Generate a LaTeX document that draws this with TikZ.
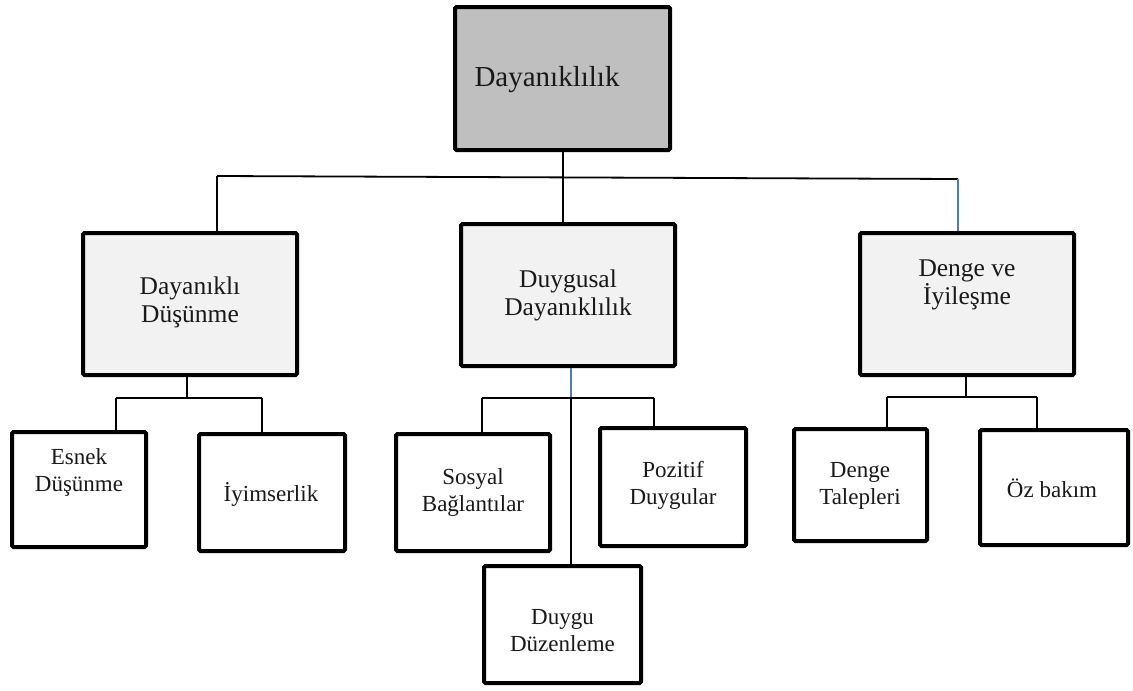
\documentclass[tikz,border=0pt]{standalone}
\usepackage{fontspec}
\setmainfont{Liberation Serif}
\usetikzlibrary{calc}
\definecolor{rootgray}{HTML}{BFBFBF}
\definecolor{midgray}{HTML}{F2F2F2}
\definecolor{linkblue}{HTML}{4A7EBB}
\begin{document}
\begin{tikzpicture}[x=1pt,y=-1pt,
  box/.style={draw=black, line width=4pt, rounded corners=1.5pt, inner sep=0pt},
  rootbox/.style={box, fill=rootgray, minimum width=215pt, minimum height=143pt},
  midbox/.style={box, fill=midgray, minimum width=214pt, minimum height=142pt},
  leafbox/.style={box, fill=white},
  roottext/.style={font=\fontsize{29}{34}\selectfont, text=black!90},
  midtext/.style={font=\fontsize{25.5}{28}\selectfont, align=center, text=black!90},
  leaftext/.style={font=\fontsize{23}{27}\selectfont, align=center, text=black!90},
  link/.style={draw=black, line width=1.8pt},
  bluelink/.style={draw=linkblue, line width=1.8pt}]
\useasboundingbox[fill=white] (0,0) rectangle (1133,691);

% root
\node[rootbox] (root) at (562.5,78.5) {};
\node[roottext] (roott) at (547,80) {Dayanıklılık};

% second level
\node[midbox] (dd)  at (190,304) {};
\node[midbox] (duy) at (568,295) {};
\node[midbox] (den) at (967,304) {};
\node[midtext] (ddt)  at (190,302) {Dayanıklı\\Düşünme};
\node[midtext] (duyt) at (568,295) {Duygusal\\Dayanıklılık};
\node[midtext] (dent) at (967,285) {Denge ve\\İyileşme};

% third level
\node[leafbox, minimum width=134pt, minimum height=115pt] (esnek) at (79,489.5) {};
\node[leafbox, minimum width=146pt, minimum height=117pt] (iyim) at (272,492.5) {};
\node[leafbox, minimum width=154pt, minimum height=117pt] (sosyal) at (473,492.5) {};
\node[leafbox, minimum width=146pt, minimum height=118pt] (pozitif) at (673,487) {};
\node[leafbox, minimum width=157pt, minimum height=117pt] (duygu) at (562.5,624.5) {};
\node[leafbox, minimum width=133pt, minimum height=112pt] (talep) at (860.5,485) {};
\node[leafbox, minimum width=148pt, minimum height=115pt] (oz) at (1054,487.5) {};

\node[leaftext] (esnekt)   at (79,472) {Esnek\\Düşünme};
\node[leaftext] (iyimt)    at (271,494) {İyimserlik};
\node[leaftext] (sosyalt)  at (473,492) {Sosyal\\Bağlantılar};
\node[leaftext] (pozitift) at (673,485) {Pozitif\\Duygular};
\node[leaftext] (duygut)   at (562.5,631) {Duygu\\Düzenleme};
\node[leaftext] (talept)   at (860,486) {Denge\\Talepleri};
\node[leaftext] (ozt)      at (1052,488) {Öz bakım};

% top bus
\coordinate (busl) at (217,176);
\coordinate (busr) at (958,179);
\coordinate (busm) at (563,177.5);
\draw[link] (root.south -| busm) -- (duy.north -| busm);
\draw[link] (busl) -- (busr);
\draw[link] (busl) -- (dd.north -| busl);
\draw[bluelink] (busr) -- (den.north -| busr);

% left group
\coordinate (lj) at (187,398);
\coordinate (ll) at (116,398);
\coordinate (lr) at (262,398);
\draw[link] (dd.south -| lj) -- (lj);
\draw[link] (ll) -- (lr);
\draw[link] (ll) -- (esnek.north -| ll);
\draw[link] (lr) -- (iyim.north -| lr);

% middle group
\coordinate (mj) at (571,398);
\coordinate (ml) at (482,398);
\coordinate (mr) at (654,398);
\draw[bluelink] (duy.south -| mj) -- (mj);
\draw[link] (ml) -- (mr);
\draw[link] (ml) -- (sosyal.north -| ml);
\draw[link] (mr) -- (pozitif.north -| mr);
\draw[link] (mj) -- (duygu.north -| mj);

% right group
\coordinate (rj) at (966,397);
\coordinate (rl) at (887,397);
\coordinate (rr) at (1037,397);
\draw[link] (den.south -| rj) -- (rj);
\draw[link] (rl) -- (rr);
\draw[link] (rl) -- (talep.north -| rl);
\draw[link] (rr) -- (oz.north -| rr);
\end{tikzpicture}
\end{document}
